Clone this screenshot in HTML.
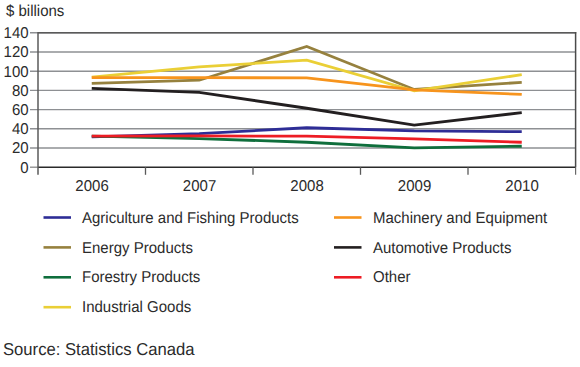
<!DOCTYPE html>
<html><head><meta charset="utf-8"><style>
html,body{margin:0;padding:0;background:#fff;width:580px;height:367px;overflow:hidden}
svg{display:block;text-rendering:geometricPrecision}
.t{font-family:"Liberation Sans",sans-serif;font-size:15px;fill:#2b2b2b}
.s{font-family:"Liberation Sans",sans-serif;font-size:17.3px;fill:#2b2b2b}
</style></head><body>
<svg width="580" height="367" viewBox="0 0 580 367">
<line x1="30" y1="148.00" x2="576" y2="148.00" stroke="#8e9093" stroke-width="1.4"/>
<line x1="30" y1="128.80" x2="576" y2="128.80" stroke="#8e9093" stroke-width="1.4"/>
<line x1="30" y1="109.60" x2="576" y2="109.60" stroke="#8e9093" stroke-width="1.4"/>
<line x1="30" y1="90.40" x2="576" y2="90.40" stroke="#8e9093" stroke-width="1.4"/>
<line x1="30" y1="71.20" x2="576" y2="71.20" stroke="#8e9093" stroke-width="1.4"/>
<line x1="30" y1="52.00" x2="576" y2="52.00" stroke="#8e9093" stroke-width="1.4"/>
<line x1="30" y1="32.80" x2="576" y2="32.80" stroke="#8e9093" stroke-width="1.4"/>
<line x1="38" y1="32.80" x2="576.3" y2="32.80" stroke="#5a5a5a" stroke-width="1.5"/>
<line x1="30" y1="167.20" x2="38" y2="167.20" stroke="#8a8a8a" stroke-width="1.3"/>
<line x1="38" y1="167.20" x2="576" y2="167.20" stroke="#2a2a2a" stroke-width="1.6"/>
<line x1="38" y1="32.10" x2="38" y2="174.8" stroke="#5a5a5a" stroke-width="1.5"/>
<line x1="575.6" y1="32.10" x2="575.6" y2="167.20" stroke="#4a4a4a" stroke-width="1.5"/>
<line x1="575.6" y1="167.20" x2="575.6" y2="174.8" stroke="#6a6a6a" stroke-width="1.2"/>
<line x1="145.50" y1="167.20" x2="145.50" y2="174.8" stroke="#5a5a5a" stroke-width="1.3"/>
<line x1="253.00" y1="167.20" x2="253.00" y2="174.8" stroke="#5a5a5a" stroke-width="1.3"/>
<line x1="360.50" y1="167.20" x2="360.50" y2="174.8" stroke="#5a5a5a" stroke-width="1.3"/>
<line x1="468.00" y1="167.20" x2="468.00" y2="174.8" stroke="#5a5a5a" stroke-width="1.3"/>
<polyline points="91.75,83.39 199.25,80.22 306.75,46.53 414.25,89.44 521.75,82.34" fill="none" stroke="#96813e" stroke-width="2.8" stroke-linejoin="miter"/>
<polyline points="91.75,77.06 199.25,66.88 306.75,60.16 414.25,90.88 521.75,74.66" fill="none" stroke="#eacf36" stroke-width="2.8" stroke-linejoin="miter"/>
<polyline points="91.75,77.54 199.25,77.54 306.75,77.92 414.25,89.92 521.75,94.43" fill="none" stroke="#f7941d" stroke-width="2.8" stroke-linejoin="miter"/>
<polyline points="91.75,88.29 199.25,92.42 306.75,108.26 414.25,125.06 521.75,112.67" fill="none" stroke="#231f20" stroke-width="2.8" stroke-linejoin="miter"/>
<polyline points="91.75,136.96 199.25,133.70 306.75,127.74 414.25,130.91 521.75,131.68" fill="none" stroke="#2e2d96" stroke-width="2.8" stroke-linejoin="miter"/>
<polyline points="91.75,136.19 199.25,138.59 306.75,142.24 414.25,147.81 521.75,146.27" fill="none" stroke="#0f6e3c" stroke-width="2.8" stroke-linejoin="miter"/>
<polyline points="91.75,136.10 199.25,135.90 306.75,136.19 414.25,138.78 521.75,142.24" fill="none" stroke="#ed1c24" stroke-width="2.8" stroke-linejoin="miter"/>
<text transform="translate(28.6,172.60) scale(1,1.05)" text-anchor="end" class="t">0</text>
<text transform="translate(28.6,153.40) scale(1,1.05)" text-anchor="end" class="t">20</text>
<text transform="translate(28.6,134.20) scale(1,1.05)" text-anchor="end" class="t">40</text>
<text transform="translate(28.6,115.00) scale(1,1.05)" text-anchor="end" class="t">60</text>
<text transform="translate(28.6,95.80) scale(1,1.05)" text-anchor="end" class="t">80</text>
<text transform="translate(28.6,76.60) scale(1,1.05)" text-anchor="end" class="t">100</text>
<text transform="translate(28.6,57.40) scale(1,1.05)" text-anchor="end" class="t">120</text>
<text transform="translate(28.6,38.20) scale(1,1.05)" text-anchor="end" class="t">140</text>
<text transform="translate(92.05,191) scale(1,1.05)" text-anchor="middle" class="t">2006</text>
<text transform="translate(199.55,191) scale(1,1.05)" text-anchor="middle" class="t">2007</text>
<text transform="translate(307.05,191) scale(1,1.05)" text-anchor="middle" class="t">2008</text>
<text transform="translate(414.55,191) scale(1,1.05)" text-anchor="middle" class="t">2009</text>
<text transform="translate(522.05,191) scale(1,1.05)" text-anchor="middle" class="t">2010</text>
<text transform="translate(6,15.9) scale(1,1.05)" class="t">$ billions</text>
<line x1="43.5" y1="217.5" x2="71.0" y2="217.5" stroke="#2e2d96" stroke-width="2.6"/>
<text transform="translate(82,222.60) scale(1,1.05)" class="t">Agriculture and Fishing Products</text>
<line x1="334" y1="217.5" x2="361.5" y2="217.5" stroke="#f7941d" stroke-width="2.6"/>
<text transform="translate(373,222.60) scale(1,1.05)" class="t">Machinery and Equipment</text>
<line x1="43.5" y1="247.4" x2="71.0" y2="247.4" stroke="#96813e" stroke-width="2.6"/>
<text transform="translate(82,252.50) scale(1,1.05)" class="t">Energy Products</text>
<line x1="334" y1="247.4" x2="361.5" y2="247.4" stroke="#231f20" stroke-width="2.6"/>
<text transform="translate(373,252.50) scale(1,1.05)" class="t">Automotive Products</text>
<line x1="43.5" y1="277.3" x2="71.0" y2="277.3" stroke="#0f6e3c" stroke-width="2.6"/>
<text transform="translate(82,282.40) scale(1,1.05)" class="t">Forestry Products</text>
<line x1="334" y1="277.3" x2="361.5" y2="277.3" stroke="#ed1c24" stroke-width="2.6"/>
<text transform="translate(373,282.40) scale(1,1.05)" class="t">Other</text>
<line x1="43.5" y1="307.2" x2="71.0" y2="307.2" stroke="#eacf36" stroke-width="2.6"/>
<text transform="translate(82,312.30) scale(1,1.05)" class="t">Industrial Goods</text>
<text x="3" y="355.4" class="s" textLength="191.5" lengthAdjust="spacingAndGlyphs">Source: Statistics Canada</text>
</svg>
</body></html>
